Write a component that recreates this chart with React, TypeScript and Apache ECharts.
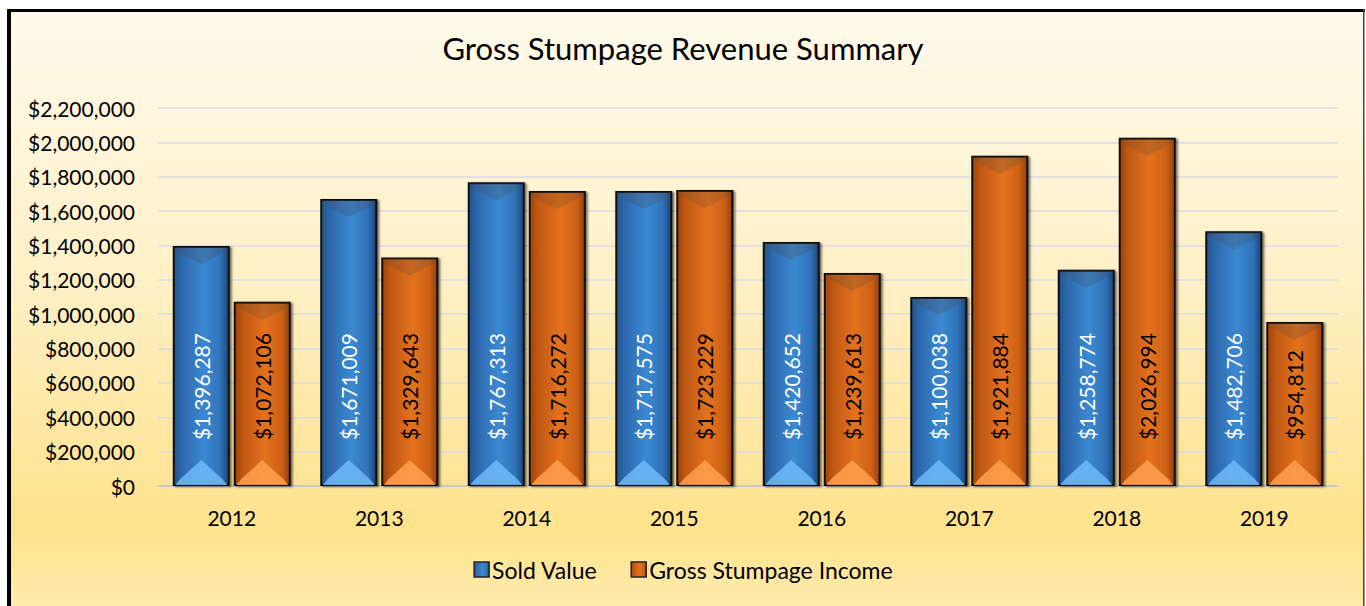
import React, { useEffect, useRef } from "react";
import * as echarts from "echarts";

const categories = ["2012", "2013", "2014", "2015", "2016", "2017", "2018", "2019"];
const soldValue = [1396287, 1671009, 1767313, 1717575, 1420652, 1100038, 1258774, 1482706];
const grossIncome = [1072106, 1329643, 1716272, 1723229, 1239613, 1921884, 2026994, 954812];
const seriesNames = ["Sold Value", "Gross Stumpage Income"];
const yMin = 0;
const yMax = 2200000;
const yInterval = 200000;

const FONT = "Lato";
const CAT_GAP = 0.2;
const BAR_GAP = 0.07;

const fmt = (v: number) => "$" + Math.round(v).toLocaleString("en-US");

function bevelRenderer(pos: number, topColor: string, bottomColor: string) {
  return (params: any, api: any) => {
    const idx = api.value(0);
    const val = api.value(1);
    const band = api.size([1, 0])[0];
    const w = (band - band * CAT_GAP) / (2 + BAR_GAP);
    const g = w * BAR_GAP;
    const total = 2 * w + g;
    const top = api.coord([idx, val]);
    const base = api.coord([idx, 0]);
    const left = top[0] - total / 2 + pos * (w + g) + 1.5;
    const right = left + w - 3;
    const c = (left + right) / 2;
    const yt = top[1] + 1;
    const yb = base[1] - 1;
    return {
      type: "group",
      children: [
        {
          type: "polygon",
          shape: {
            points: [
              [left, yt],
              [right, yt],
              [right - 3, yt + 5],
              [c, yt + 17],
              [left + 3, yt + 5],
            ],
          },
          style: { fill: topColor },
        },
        {
          type: "polygon",
          shape: {
            points: [
              [left + 1, yb],
              [right - 1, yb],
              [right - 6, yb - 6],
              [c, yb - 25],
              [left + 6, yb - 6],
            ],
          },
          style: { fill: bottomColor },
        },
      ],
    };
  };
}

export default function App() {
  const ref = useRef<HTMLDivElement>(null);
  useEffect(() => {
    document.body.style.margin = "0";
    if (!ref.current) return;
    const chart = echarts.init(ref.current, undefined, { renderer: "svg" });

    const blueGrad = new echarts.graphic.LinearGradient(0, 0, 1, 0, [
      { offset: 0, color: "#22538C" },
      { offset: 0.15, color: "#2D68AC" },
      { offset: 0.55, color: "#3B89D2" },
      { offset: 0.85, color: "#2F72B8" },
      { offset: 1, color: "#1B4475" },
    ]);
    const orangeGrad = new echarts.graphic.LinearGradient(0, 0, 1, 0, [
      { offset: 0, color: "#9E440C" },
      { offset: 0.15, color: "#C05812" },
      { offset: 0.55, color: "#E3721F" },
      { offset: 0.85, color: "#CC6116" },
      { offset: 1, color: "#95400A" },
    ]);

    const barItem = (color: any) => ({
      color,
      borderColor: "#111111",
      borderWidth: 2,
      shadowColor: "rgba(0,0,0,0.55)",
      shadowOffsetX: 2,
      shadowOffsetY: 1,
      shadowBlur: 2,
    });

    const barLabel = (color: string) => ({
      show: true,
      position: "insideBottom",
      distance: 46,
      rotate: 90,
      align: "left",
      verticalAlign: "middle",
      color,
      fontFamily: FONT,
      fontSize: 21,
      formatter: (p: any) => fmt(p.value),
    });

    const option: any = {
      animation: false,
      backgroundColor: "#ffffff",
      graphic: [
        {
          type: "rect",
          z: -10,
          shape: { x: 9, y: 11, width: 1355, height: 600 },
          style: {
            fill: new echarts.graphic.LinearGradient(0, 0, 0, 1, [
              { offset: 0, color: "#FFFAEC" },
              { offset: 0.45, color: "#FFF0C6" },
              { offset: 0.86, color: "#FFE28C" },
              { offset: 1, color: "#FFECAE" },
            ]),
          },
        },
        { type: "rect", z: -9, shape: { x: 7, y: 9, width: 4, height: 600 }, style: { fill: "#000" } },
        { type: "rect", z: -9, shape: { x: 7, y: 9, width: 1358, height: 3 }, style: { fill: "#000" } },
        { type: "rect", z: -9, shape: { x: 1363, y: 9, width: 1.5, height: 600 }, style: { fill: "#444" } },
      ],
      title: {
        text: "Gross Stumpage Revenue Summary",
        left: "center",
        top: 32,
        padding: 0,
        textStyle: { fontFamily: FONT, fontSize: 31, fontWeight: "normal", color: "#000" },
      },
      legend: {
        data: seriesNames,
        top: 558,
        left: "center",
        padding: 0,
        itemWidth: 15,
        itemHeight: 15,
        itemGap: 33,
        icon: "rect",
        textStyle: { fontFamily: FONT, fontSize: 23, color: "#000", padding: [0, 0, 0, -2] },
        itemStyle: { borderColor: "#222", borderWidth: 1.5, shadowBlur: 0, shadowOffsetX: 0, shadowOffsetY: 0 },
      },
      grid: { left: 158, right: 28, top: 108, bottom: 120 },
      xAxis: {
        type: "category",
        data: categories,
        axisLine: { show: true, lineStyle: { color: "#C8C8C8", width: 2 } },
        axisTick: { show: false },
        axisLabel: { fontFamily: FONT, fontSize: 21, color: "#000", margin: 21 },
      },
      yAxis: {
        type: "value",
        min: yMin,
        max: yMax,
        interval: yInterval,
        axisLine: { show: false },
        axisTick: { show: false },
        splitLine: { lineStyle: { color: "#D9DAE4", width: 1.5 } },
        axisLabel: { fontFamily: FONT, fontSize: 21, color: "#000", margin: 23, formatter: (v: number) => fmt(v) },
      },
      series: [
        {
          name: seriesNames[0],
          type: "bar",
          data: soldValue,
          barCategoryGap: CAT_GAP * 100 + "%",
          barGap: BAR_GAP * 100 + "%",
          itemStyle: barItem(blueGrad),
          label: barLabel("#FFFFFF"),
          z: 2,
        },
        {
          name: seriesNames[1],
          type: "bar",
          data: grossIncome,
          barCategoryGap: CAT_GAP * 100 + "%",
          barGap: BAR_GAP * 100 + "%",
          itemStyle: barItem(orangeGrad),
          label: barLabel("#000000"),
          z: 2,
        },
        {
          name: "soldBevel",
          type: "custom",
          silent: true,
          z: 3,
          renderItem: bevelRenderer(0, "rgba(70,80,100,0.3)", "rgba(110,185,250,0.85)"),
          encode: { x: 0, y: 1 },
          data: soldValue.map((v, i) => [i, v]),
        },
        {
          name: "incomeBevel",
          type: "custom",
          silent: true,
          z: 3,
          renderItem: bevelRenderer(1, "rgba(120,80,50,0.3)", "rgba(255,160,80,0.85)"),
          encode: { x: 0, y: 1 },
          data: grossIncome.map((v, i) => [i, v]),
        },
      ],
    };
    chart.setOption(option);
    return () => chart.dispose();
  }, []);
  return <div ref={ref} style={{ width: 1366, height: 606 }} />;
}
